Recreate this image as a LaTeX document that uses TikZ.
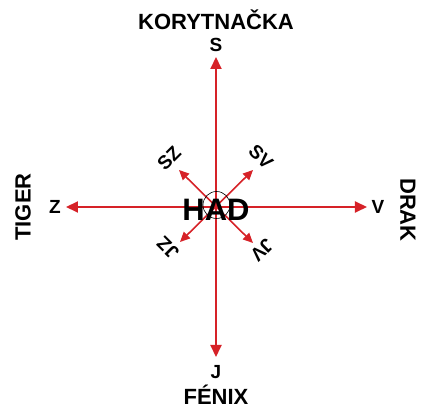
\documentclass[tikz,border=0pt]{standalone}
\usepackage{fontspec}
\setmainfont{Liberation Sans}
\usetikzlibrary{arrows.meta}
\definecolor{axisred}{RGB}{214,34,40}

\begin{document}
\begin{tikzpicture}[x=1pt, y=1pt,
dirline/.style={draw=axisred, line width=2pt, {Triangle[length=12pt, width=11pt]}-{Triangle[length=12pt, width=11pt]}},
diagline/.style={draw=axisred, line width=1.6pt, {Triangle[length=10pt, width=9pt]}-{Triangle[length=10pt, width=9pt]}},
dirnode/.style={font=\bfseries\fontsize{19}{22}\selectfont, inner sep=0pt},
namenode/.style={font=\bfseries\fontsize{22}{26}\selectfont, inner sep=0pt},
]
\useasboundingbox (-216,-199) rectangle (205,207);
%Tips
\coordinate (tipS) at (0,150);
\coordinate (tipJ) at (0,-150);
\coordinate (tipZ) at (-150,0);
\coordinate (tipV) at (151,0);
\coordinate (tipSZ) at (-37,37);
\coordinate (tipSV) at (37,37);
\coordinate (tipJZ) at (-36,-35);
\coordinate (tipJV) at (37,-36);

%Lines
\draw[dirline] (tipJ) -- (tipS);
\draw[dirline] (tipZ) -- (tipV);
\draw[diagline] (tipJV) -- (tipSZ);
\draw[diagline] (tipJZ) -- (tipSV);

%Nodes
\node[circle, draw=black, line width=0.6pt, minimum size=27pt, inner sep=0pt] (ring) at (0.5,2) {};
\node[font=\bfseries\fontsize{31}{36}\selectfont, inner sep=0pt] (had) at (0,-3) {HAD};
\node[dirnode] (S) at (0,162) {S};
\node[namenode] (korytnacka) at (0,187) {KORYTNAČKA};
\node[dirnode] (J) at (0,-165) {J};
\node[namenode] (fenix) at (0,-188) {FÉNIX};
\node[dirnode] (Z) at (-161,0) {Z};
\node[namenode, rotate=90] (tiger) at (-193,0) {TIGER};
\node[dirnode] (V) at (162,0) {V};
\node[namenode, rotate=-90] (drak) at (192,-3) {DRAK};
\node[dirnode, rotate=45] (SZ) at (-47,49) {SZ};
\node[dirnode, rotate=-45] (SV) at (45,50) {SV};
\node[dirnode, rotate=135] (JZ) at (-48,-41) {JZ};
\node[dirnode, rotate=-135] (JV) at (46,-43) {JV};
\end{tikzpicture}
\end{document}
